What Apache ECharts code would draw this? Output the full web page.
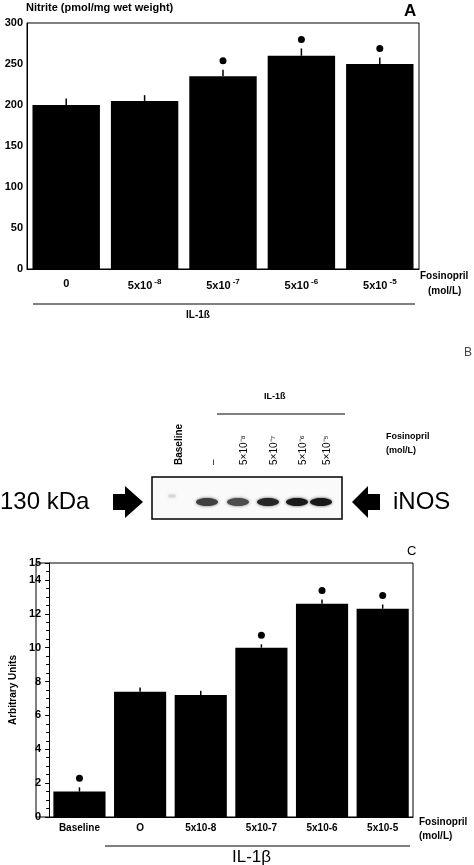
<!DOCTYPE html>
<html><head><meta charset="utf-8">
<script src="https://cdn.jsdelivr.net/npm/echarts@6/dist/echarts.min.js"></script>
<style>html,body{margin:0;padding:0;background:#fff}#c{width:474px;height:865px}</style>
</head><body><div id="c"></div>
<script>
const catsA = ['0','5x10{s|-8}','5x10{s|-7}','5x10{s|-6}','5x10{s|-5}'];
const valsA = [200,205,235,260,250];
const errA = [8,7,8,9,8];
const sigA = [0,0,1,1,1];
const catsC = ['Baseline','O','5x10-8','5x10-7','5x10-6','5x10-5'];
const valsC = [1.5,7.4,7.2,10.0,12.6,12.3];
const errC = [0.25,0.25,0.25,0.2,0.25,0.25];
const sigC = [1,0,0,1,1,1];
const blotLanes = ['Baseline','–','5×10⁻⁸','5×10⁻⁷','5×10⁻⁶','5×10⁻⁵'];
const blotIntensity = [0.15,0.75,0.7,0.85,0.9,0.9];

const F = 'Arial, Liberation Sans, sans-serif';
const chart = echarts.init(document.getElementById('c'));

function errSeries(xi, yi, vals, errs, sig){
  return {type:'custom', xAxisIndex:xi, yAxisIndex:yi, z:5,
    data: vals.map((v,i)=>[i,v,errs[i],sig[i]]),
    renderItem:(p,api)=>{
      const a=api.coord([api.value(0),api.value(1)]);
      const b=api.coord([api.value(0),api.value(1)+api.value(2)]);
      const ch=[{type:'line',shape:{x1:a[0],y1:a[1],x2:b[0],y2:b[1]},style:{stroke:'#000',lineWidth:1.5}}];
      if(api.value(3)) ch.push({type:'circle',shape:{cx:b[0],cy:b[1]-9,r:3.5},style:{fill:'#000'}});
      return {type:'group',children:ch};
    }};
}

const lanesX=[173,207,238,268,297,321];
const g=[];
// panel A frame
g.push({type:'rect',shape:{x:27,y:23,width:392,height:246},style:{fill:'none',stroke:'#000',lineWidth:1}});
g.push({type:'rect',shape:{x:36,y:563,width:377,height:254},style:{fill:'none',stroke:'#000',lineWidth:1}});
const T=(x,y,t,o)=>g.push({type:'text',x,y,style:Object.assign({text:t,fill:'#000',font:'bold 11px '+F},o||{})});
T(26,2,'Nitrite (pmol/mg wet weight)');
T(404,3,'A',{font:'bold 17px '+F});
T(420,271,'Fosinopril',{font:'bold 10px '+F});
T(428,286,'(mol/L)',{font:'bold 10px '+F});
g.push({type:'line',shape:{x1:33,y1:304,x2:415,y2:304},style:{stroke:'#000',lineWidth:1}});
T(186,310,'IL-1ß',{font:'bold 10px '+F});
T(464,347,'B',{font:'12px '+F,fill:'#444'});
T(264,392,'IL-1ß',{font:'bold 9px '+F});
g.push({type:'line',shape:{x1:217,y1:414,x2:345,y2:414},style:{stroke:'#000',lineWidth:1}});
blotLanes.forEach((t,i)=>g.push({type:'text',x:lanesX[i]+6,y:465,rotation:Math.PI/2,style:{text:t,fill:'#000',font:(i==0?'bold ':'')+'10px '+F,align:'left',verticalAlign:'middle'}}));
T(386,432,'Fosinopril',{font:'bold 9px '+F});
T(386,446,'(mol/L)',{font:'bold 9px '+F});
g.push({type:'rect',shape:{x:152,y:477,width:190,height:42},style:{fill:'#fafafa',stroke:'#000',lineWidth:1.5}});
blotIntensity.forEach((v,i)=>{const c=Math.round(255*(1-v));g.push({type:'ellipse',shape:{cx:lanesX[i]+(i?0:-1),cy:i?502:496,rx:i?11:4,ry:i?4:2},style:{fill:`rgb(${c},${c},${c})`,shadowBlur:3,shadowColor:`rgba(${c},${c},${c},0.8)`}});});
T(0,490,'130 kDa',{font:'24px '+F});
g.push({type:'polygon',shape:{points:[[113,494],[125,494],[125,486],[143,502],[125,518],[125,510],[113,510]]},style:{fill:'#000'}});
g.push({type:'polygon',shape:{points:[[380,494],[368,494],[368,486],[352,502],[368,518],[368,510],[380,510]]},style:{fill:'#000'}});
T(393,490,'iNOS',{font:'24px '+F});
T(407,545,'C',{font:'13px '+F});
T(419,817,'Fosinopril',{font:'bold 10px '+F});
T(419,831,'(mol/L)',{font:'bold 10px '+F});
g.push({type:'line',shape:{x1:105,y1:846,x2:410,y2:846},style:{stroke:'#000',lineWidth:1}});
T(232,849,'IL-1β',{font:'17px '+F});

chart.setOption({
  animation:false,
  grid:[{left:27,top:23,width:392,height:246},{left:36,top:563,width:377,height:254}],
  xAxis:[
    {gridIndex:0,type:'category',data:catsA,axisTick:{show:false},axisLine:{lineStyle:{color:'#000'}},
     axisLabel:{color:'#000',fontFamily:F,fontWeight:'bold',fontSize:11,margin:9,rich:{s:{fontSize:8,fontWeight:'bold',verticalAlign:'top',padding:[0,0,8,2]}}}},
    {gridIndex:1,type:'category',data:catsC,axisTick:{show:false},axisLine:{lineStyle:{color:'#000'}},
     axisLabel:{color:'#000',fontFamily:F,fontWeight:'bold',fontSize:10,margin:6}}],
  yAxis:[
    {gridIndex:0,type:'value',min:0,max:300,interval:50,splitLine:{show:false},axisLine:{show:true,lineStyle:{color:'#000'}},axisTick:{show:false},
     axisLabel:{color:'#000',fontFamily:F,fontWeight:'bold',fontSize:11,margin:4}},
    {gridIndex:1,type:'value',min:0,max:15,interval:2,splitLine:{show:false},axisLine:{show:true,lineStyle:{color:'#000'}},
     axisTick:{show:true,inside:false,length:4,lineStyle:{color:'#000'}},minorTick:{show:true,splitNumber:4,length:3,lineStyle:{color:'#000'}},
     axisLabel:{color:'#000',fontFamily:F,fontWeight:'bold',fontSize:11,margin:8},
     name:'Arbitrary Units',nameLocation:'middle',nameGap:22,nameTextStyle:{color:'#000',fontFamily:F,fontSize:10,fontWeight:'bold'}}],
  series:[
    {type:'bar',xAxisIndex:0,yAxisIndex:0,data:valsA,barCategoryGap:'14%',itemStyle:{color:'#000'}},
    errSeries(0,0,valsA,errA,sigA),
    {type:'bar',xAxisIndex:1,yAxisIndex:1,data:valsC,barCategoryGap:'14%',itemStyle:{color:'#000'}},
    errSeries(1,1,valsC,errC,sigC)],
  graphic:g
});
</script></body></html>
